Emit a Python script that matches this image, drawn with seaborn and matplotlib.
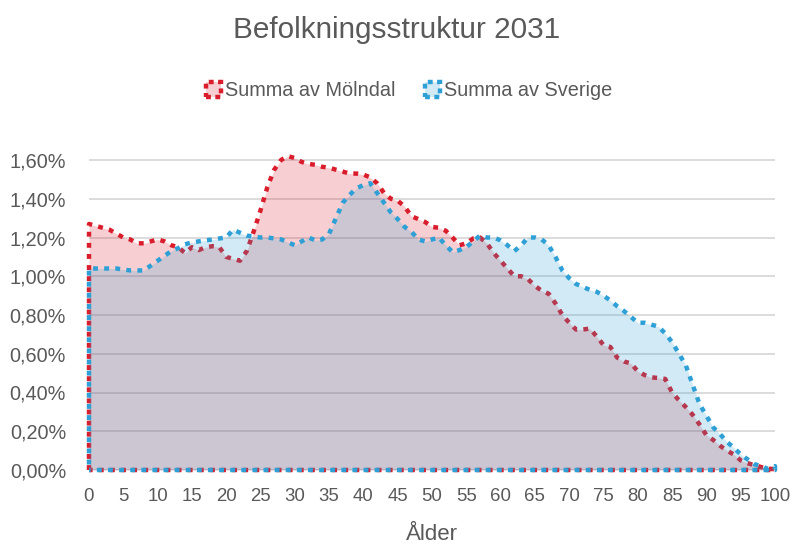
import numpy as np
import pandas as pd
import matplotlib
matplotlib.use("Agg")
import matplotlib.pyplot as plt
import seaborn as sns
from matplotlib.patches import Patch
from matplotlib import font_manager

# ---------------- data ----------------
ages = list(range(101))
molndal = [1.27, 1.26, 1.25, 1.24, 1.22, 1.20, 1.19, 1.17, 1.17, 1.18,
           1.19, 1.18, 1.16, 1.15, 1.12, 1.15, 1.135, 1.15, 1.155, 1.15,
           1.10, 1.09, 1.08, 1.13, 1.23, 1.34, 1.46, 1.55, 1.60, 1.62,
           1.61, 1.59, 1.58, 1.575, 1.565, 1.56, 1.55, 1.54, 1.53, 1.53,
           1.525, 1.51, 1.48, 1.43, 1.40, 1.39, 1.36, 1.31, 1.295, 1.28,
           1.255, 1.25, 1.235, 1.20, 1.16, 1.17, 1.195, 1.20, 1.17, 1.12,
           1.08, 1.04, 1.00, 1.00, 0.985, 0.95, 0.925, 0.91, 0.86, 0.80,
           0.76, 0.725, 0.725, 0.73, 0.69, 0.645, 0.635, 0.58, 0.56, 0.55,
           0.51, 0.49, 0.478, 0.475, 0.47, 0.40, 0.36, 0.325, 0.285, 0.235,
           0.18, 0.155, 0.125, 0.10, 0.08, 0.05, 0.035, 0.025, 0.015, 0.008,
           0.003]
sverige = [1.04, 1.04, 1.04, 1.04, 1.04, 1.035, 1.03, 1.03, 1.03, 1.055,
           1.08, 1.105, 1.13, 1.145, 1.165, 1.175, 1.18, 1.185, 1.19, 1.195,
           1.20, 1.24, 1.225, 1.21, 1.205, 1.20, 1.20, 1.195, 1.19, 1.175,
           1.16, 1.18, 1.20, 1.185, 1.19, 1.22, 1.30, 1.38, 1.42, 1.455,
           1.47, 1.48, 1.43, 1.38, 1.33, 1.295, 1.255, 1.23, 1.19, 1.18,
           1.19, 1.20, 1.16, 1.125, 1.135, 1.15, 1.18, 1.21, 1.20, 1.20,
           1.185, 1.16, 1.13, 1.16, 1.20, 1.20, 1.19, 1.16, 1.10, 1.03,
           0.99, 0.96, 0.945, 0.93, 0.92, 0.90, 0.875, 0.845, 0.82, 0.79,
           0.76, 0.76, 0.75, 0.74, 0.705, 0.66, 0.60, 0.54, 0.44, 0.34,
           0.28, 0.22, 0.185, 0.145, 0.115, 0.08, 0.055, 0.03, 0.02, 0.005,
           0.02]
x_ticks = list(range(0, 101, 5))
y_ticks = [0.0, 0.2, 0.4, 0.6, 0.8, 1.0, 1.2, 1.4, 1.6]
y_labels = ["0,00%", "0,20%", "0,40%", "0,60%", "0,80%", "1,00%", "1,20%", "1,40%", "1,60%"]
series_names = ["Summa av Mölndal", "Summa av Sverige"]
title = "Befolkningsstruktur 2031"
xlabel = "Ålder"

# ---------------- style ----------------
sns.set_theme(style="white")
names = {f.name for f in font_manager.fontManager.ttflist}
narrow = "Liberation Sans Narrow" in names
fam = "Liberation Sans Narrow" if narrow else "Liberation Sans"
k = 1.0 if narrow else 0.84
plt.rcParams["font.family"] = [fam, "DejaVu Sans"]
TXT = "#595959"
RED = "#DA1D2C"
BLUE = "#2FA0D5"
ALPHA = 0.21
LW = 3.2

fig = plt.figure(figsize=(7.93, 5.48), dpi=100)
ymax = 1.65
top_px = 470 - ymax * 193.75
ax = fig.add_axes([89 / 793, 1 - 470 / 548, (775 - 89) / 793, (470 - top_px) / 548])


def outline_df(vals):
    xs = [0] + ages + [100, 0]
    ys = [0] + list(vals) + [0, 0]
    return pd.DataFrame({"x": xs, "y": ys})


z = 1
for vals, col, off in [(molndal, RED, 0.0), (sverige, BLUE, 1.25)]:
    ax.fill_between(ages, vals, 0, color=col, alpha=ALPHA, lw=0, zorder=z)
    sns.lineplot(data=outline_df(vals), x="x", y="y", sort=False, estimator=None,
                 color=col, lw=LW, linestyle=(off, (1.1, 1.4)), dash_capstyle="butt",
                 ax=ax, zorder=z + 1, legend=False, clip_on=False)
    z += 2

ax.set_xlim(0, 100)
ax.set_ylim(0, ymax)
ax.set_xticks(x_ticks)
ax.set_xticklabels([str(t) for t in x_ticks])
ax.set_yticks(y_ticks)
ax.set_yticklabels(y_labels)
ax.tick_params(axis="x", length=0, labelsize=16 * k, colors=TXT, pad=13)
ax.tick_params(axis="y", length=0, labelsize=17 * k, colors=TXT, pad=16.5)
ax.yaxis.grid(True, color="#d9d9d9", lw=1.3)
ax.xaxis.grid(False)
ax.set_axisbelow(True)
for s in ax.spines.values():
    s.set_visible(False)
ax.set_xlabel(xlabel, fontsize=16, color=TXT, labelpad=14)
ax.set_ylabel("")

fig.text(0.5, 1 - 30 / 548, title, ha="center", va="center", fontsize=25.5 * k, color=TXT)

handles = [Patch(facecolor=matplotlib.colors.to_rgba(c, ALPHA), edgecolor=c, lw=LW,
                 linestyle=(0, (1.1, 1.0))) for c in (RED, BLUE)]
fig.legend(handles, series_names, loc="center", bbox_to_anchor=(409 / 793, 1 - 91 / 548),
           ncol=2, frameon=False, fontsize=17 * k, labelcolor=TXT,
           handlelength=0.75, handleheight=0.75, handletextpad=0.2, columnspacing=1.5)

fig.savefig("out.png", dpi=100)
